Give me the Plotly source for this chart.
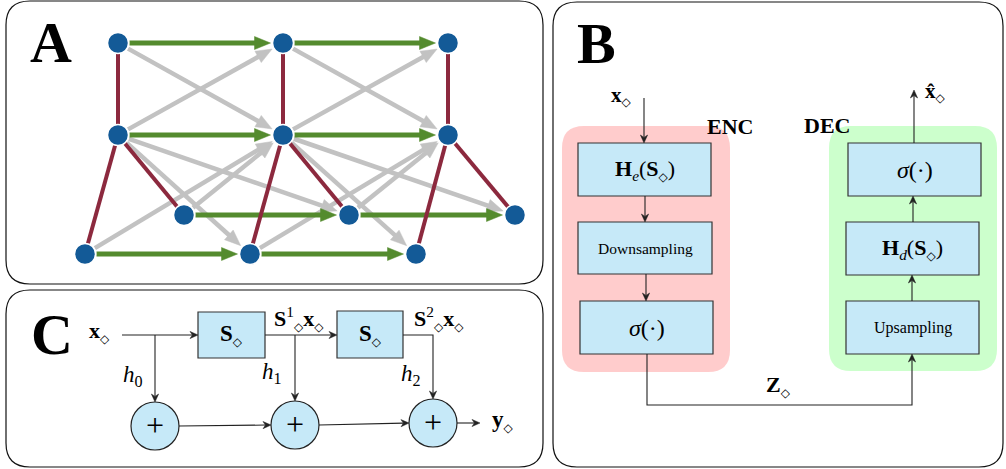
import math
import plotly.graph_objects as go

W, H = 1006, 469

# ---------------- Panel A: spatio-temporal graph ----------------
node_x = [118, 118, 184, 85, 283, 283, 349, 250, 448, 448, 515, 416]
node_y = [43, 135, 215, 254, 43, 135, 215, 254, 43, 135, 215, 254]
spatial_edges = [(0, 1), (1, 3), (1, 2), (4, 5), (5, 7), (5, 6), (8, 9), (9, 11), (9, 10)]
temporal_edges = [(0, 4), (1, 5), (2, 6), (3, 7), (4, 8), (5, 9), (6, 10), (7, 11)]
cross_edges = [(0, 5), (1, 4), (1, 6), (1, 7), (2, 5), (3, 5),
               (4, 9), (5, 8), (5, 10), (5, 11), (6, 9), (7, 9)]

# ---------------- Panel frames ----------------
panel_names = ["A", "C", "B"]
panel_boxes = [(6, 1, 543, 284), (6, 290, 543, 467), (553, 2, 1003, 467)]
panel_label_pos = [(51, 42), (52, 334), (596, 43)]

DIA = '<span style="font-family:DejaVu Sans;font-size:12px">◇</span>'

# ---------------- Panel C: graph filter ----------------
c_box_rects = [(198, 312, 265, 358), (337, 311, 403, 358)]
c_box_text = [f"<b>S</b><sub>{DIA}</sub>", f"<b>S</b><sub>{DIA}</sub>"]
c_circle_cx = [155, 295, 433]
c_circle_cy = [426, 425, 423]
c_circle_r = 24
c_arrows = [
    [(122, 335), (198, 335)],
    [(155, 335), (155, 402)],
    [(265, 335), (337, 335)],
    [(295, 335), (295, 401)],
    [(403, 335), (433, 335), (433, 399)],
    [(179, 426), (271, 425)],
    [(319, 425), (409, 423)],
    [(457, 423), (480, 423)],
]
c_labels = [f"<b>x</b><sub>{DIA}</sub>", "<i>h</i><sub>0</sub>", "<i>h</i><sub>1</sub>",
            "<i>h</i><sub>2</sub>", f"<b>S</b><sup>1</sup><sub>{DIA}</sub><b>x</b><sub>{DIA}</sub>",
            f"<b>S</b><sup>2</sup><sub>{DIA}</sub><b>x</b><sub>{DIA}</sub>", f"<b>y</b><sub>{DIA}</sub>"]
c_label_pos = [(99, 332), (133, 376), (272, 373), (411, 375), (299, 318), (439, 318), (503, 421)]
c_label_fs = [22, 23, 23, 23, 22, 22, 23]

# ---------------- Panel B: encoder / decoder ----------------
bg_rects = [(562, 126, 730, 372), (829, 126, 997, 371)]
bg_colors = ["#FFCCCC", "#CCFFCC"]
b_box_rects = [(578, 143, 711, 196), (578, 222, 712, 274), (580, 301, 713, 354),
               (846, 301, 979, 354), (846, 222, 979, 275), (848, 143, 981, 196)]
b_box_text = [f"<b>H</b><sub><i>e</i></sub>(<b>S</b><sub>{DIA}</sub>)", "Downsampling",
              "<i>σ</i>(·)", "Upsampling",
              f"<b>H</b><sub><i>d</i></sub>(<b>S</b><sub>{DIA}</sub>)", "<i>σ</i>(·)"]
b_box_fs = [22, 15.5, 24, 16, 22, 24]
b_arrows = [
    [(644, 98), (644, 143)],
    [(645, 196), (645, 222)],
    [(646, 274), (646, 301)],
    [(647, 354), (647, 405), (912, 405), (912, 354)],
    [(912, 301), (912, 275)],
    [(913, 222), (913, 196)],
    [(914, 143), (914, 90)],
]
b_labels = [f"<b>x</b><sub>{DIA}</sub>", "<b>ENC</b>", "<b>DEC</b>",
            f"<b>x̂</b><sub>{DIA}</sub>", f"<b>Z</b><sub>{DIA}</sub>"]
b_label_pos = [(621, 96), (730, 126), (827, 125), (935, 92), (778, 386)]
b_label_fs = [21, 22, 22, 21, 22]

BLUE_BOX = "#C6E9F8"
NODE = "#135A97"
GREEN = "#548B2E"
RED = "#8C293E"
GRAY = "#C2C2C2"
SERIF = "Liberation Serif, DejaVu Serif, serif"

shapes = []


def rounded_path(x0, y0, x1, y1, r):
    return (f"M {x0+r},{y0} L {x1-r},{y0} Q {x1},{y0} {x1},{y0+r} "
            f"L {x1},{y1-r} Q {x1},{y1} {x1-r},{y1} L {x0+r},{y1} "
            f"Q {x0},{y1} {x0},{y1-r} L {x0},{y0+r} Q {x0},{y0} {x0+r},{y0} Z")


def add_rect(rect, fill, line_color, line_w, r=0):
    x0, y0, x1, y1 = rect
    if r:
        shapes.append(dict(type="path", path=rounded_path(x0, y0, x1, y1, r),
                           fillcolor=fill, line=dict(color=line_color, width=line_w),
                           xref="x", yref="y", layer="below"))
    else:
        shapes.append(dict(type="rect", x0=x0, y0=y0, x1=x1, y1=y1,
                           fillcolor=fill, line=dict(color=line_color, width=line_w),
                           xref="x", yref="y", layer="below"))


def add_line(p, q, color, width):
    shapes.append(dict(type="line", x0=p[0], y0=p[1], x1=q[0], y1=q[1],
                       line=dict(color=color, width=width), xref="x", yref="y", layer="below"))


def head_path(base_from, tip, length, half, notch=0.0):
    dx, dy = tip[0] - base_from[0], tip[1] - base_from[1]
    d = math.hypot(dx, dy)
    ux, uy = dx / d, dy / d
    px, py = -uy, ux
    bx, by = tip[0] - ux * length, tip[1] - uy * length
    nx, ny = tip[0] - ux * length * (1 - notch), tip[1] - uy * length * (1 - notch)
    return (f"M {tip[0]},{tip[1]} L {bx+px*half},{by+py*half} L {nx},{ny} "
            f"L {bx-px*half},{by-py*half} Z"), (nx, ny)


def add_head(base_from, tip, color, length, half, notch=0.0):
    path, nb = head_path(base_from, tip, length, half, notch)
    shapes.append(dict(type="path", path=path, fillcolor=color,
                       line=dict(color=color, width=0.5), xref="x", yref="y", layer="below"))
    return nb


def thin_arrow(points, color="#222222"):
    path = "M " + " L ".join(f"{x},{y}" for x, y in points[:-1])
    p, q = points[-2], points[-1]
    _, nb = head_path(p, q, 8, 3.6, 0.3)
    path += f" L {nb[0]},{nb[1]}"
    shapes.append(dict(type="path", path=path, line=dict(color=color, width=1.1),
                       xref="x", yref="y", layer="below"))
    add_head(p, q, color, 8, 3.6, 0.3)


def graph_arrow(a, b, color, width, r=11.5):
    ax, ay = node_x[a], node_y[a]
    bx, by = node_x[b], node_y[b]
    d = math.hypot(bx - ax, by - ay)
    ux, uy = (bx - ax) / d, (by - ay) / d
    start = (ax + ux * r, ay + uy * r)
    tip = (bx - ux * (r + 1), by - uy * (r + 1))
    L = 16
    base = (tip[0] - ux * (L - 2), tip[1] - uy * (L - 2))
    add_line(start, base, color, width)
    add_head(start, tip, color, L, 6.5)


# panel frames
for rect in panel_boxes:
    add_rect(rect, "white", "#111111", 1.2, r=24)

# panel A edges
for a, b in cross_edges:
    graph_arrow(a, b, GRAY, 4.5)
for a, b in temporal_edges:
    graph_arrow(a, b, GREEN, 5)
for a, b in spatial_edges:
    add_line((node_x[a], node_y[a]), (node_x[b], node_y[b]), RED, 4)

# panel C
for rect in c_box_rects:
    add_rect(rect, BLUE_BOX, "#333333", 1.2)
for cx, cy in zip(c_circle_cx, c_circle_cy):
    shapes.append(dict(type="circle", x0=cx - c_circle_r, y0=cy - c_circle_r,
                       x1=cx + c_circle_r, y1=cy + c_circle_r, fillcolor=BLUE_BOX,
                       line=dict(color="#222222", width=1.2), xref="x", yref="y", layer="below"))
for pts in c_arrows:
    thin_arrow(pts)

# panel B
for rect, col in zip(bg_rects, bg_colors):
    add_rect(rect, col, col, 0, r=22)
for rect in b_box_rects:
    add_rect(rect, BLUE_BOX, "#333333", 1.2)
for pts in b_arrows:
    thin_arrow(pts)

annotations = []


def add_text(x, y, text, size, family=SERIF):
    annotations.append(dict(x=x, y=y, xref="x", yref="y", text=text, showarrow=False,
                            font=dict(family=family, size=size, color="black"),
                            xanchor="center", yanchor="middle"))


for name, (x, y) in zip(panel_names, panel_label_pos):
    add_text(x, y, f"<b>{name}</b>", 58)

for rect, t in zip(c_box_rects, c_box_text):
    add_text((rect[0] + rect[2]) / 2, (rect[1] + rect[3]) / 2, t, 23)
for cx, cy in zip(c_circle_cx, c_circle_cy):
    add_text(cx, cy - 1, "+", 32)
for t, (x, y), fs in zip(c_labels, c_label_pos, c_label_fs):
    add_text(x, y, t, fs)

for rect, t, fs in zip(b_box_rects, b_box_text, b_box_fs):
    add_text((rect[0] + rect[2]) / 2, (rect[1] + rect[3]) / 2, t, fs)
for t, (x, y), fs in zip(b_labels, b_label_pos, b_label_fs):
    add_text(x, y, t, fs)

fig = go.Figure()
fig.add_trace(go.Scatter(x=node_x, y=node_y, mode="markers",
                         marker=dict(size=21, color=NODE, line=dict(color="white", width=1.5)),
                         hoverinfo="skip", showlegend=False))

fig.update_layout(
    width=W, height=H,
    margin=dict(l=0, r=0, t=0, b=0),
    paper_bgcolor="white", plot_bgcolor="white",
    xaxis=dict(range=[0, W], visible=False, fixedrange=True),
    yaxis=dict(range=[H, 0], visible=False, fixedrange=True),
    shapes=shapes, annotations=annotations, showlegend=False,
)

fig.write_html("out.html", config={"staticPlot": True},
               post_script="document.body.style.margin='0';document.body.style.overflow='hidden';")
